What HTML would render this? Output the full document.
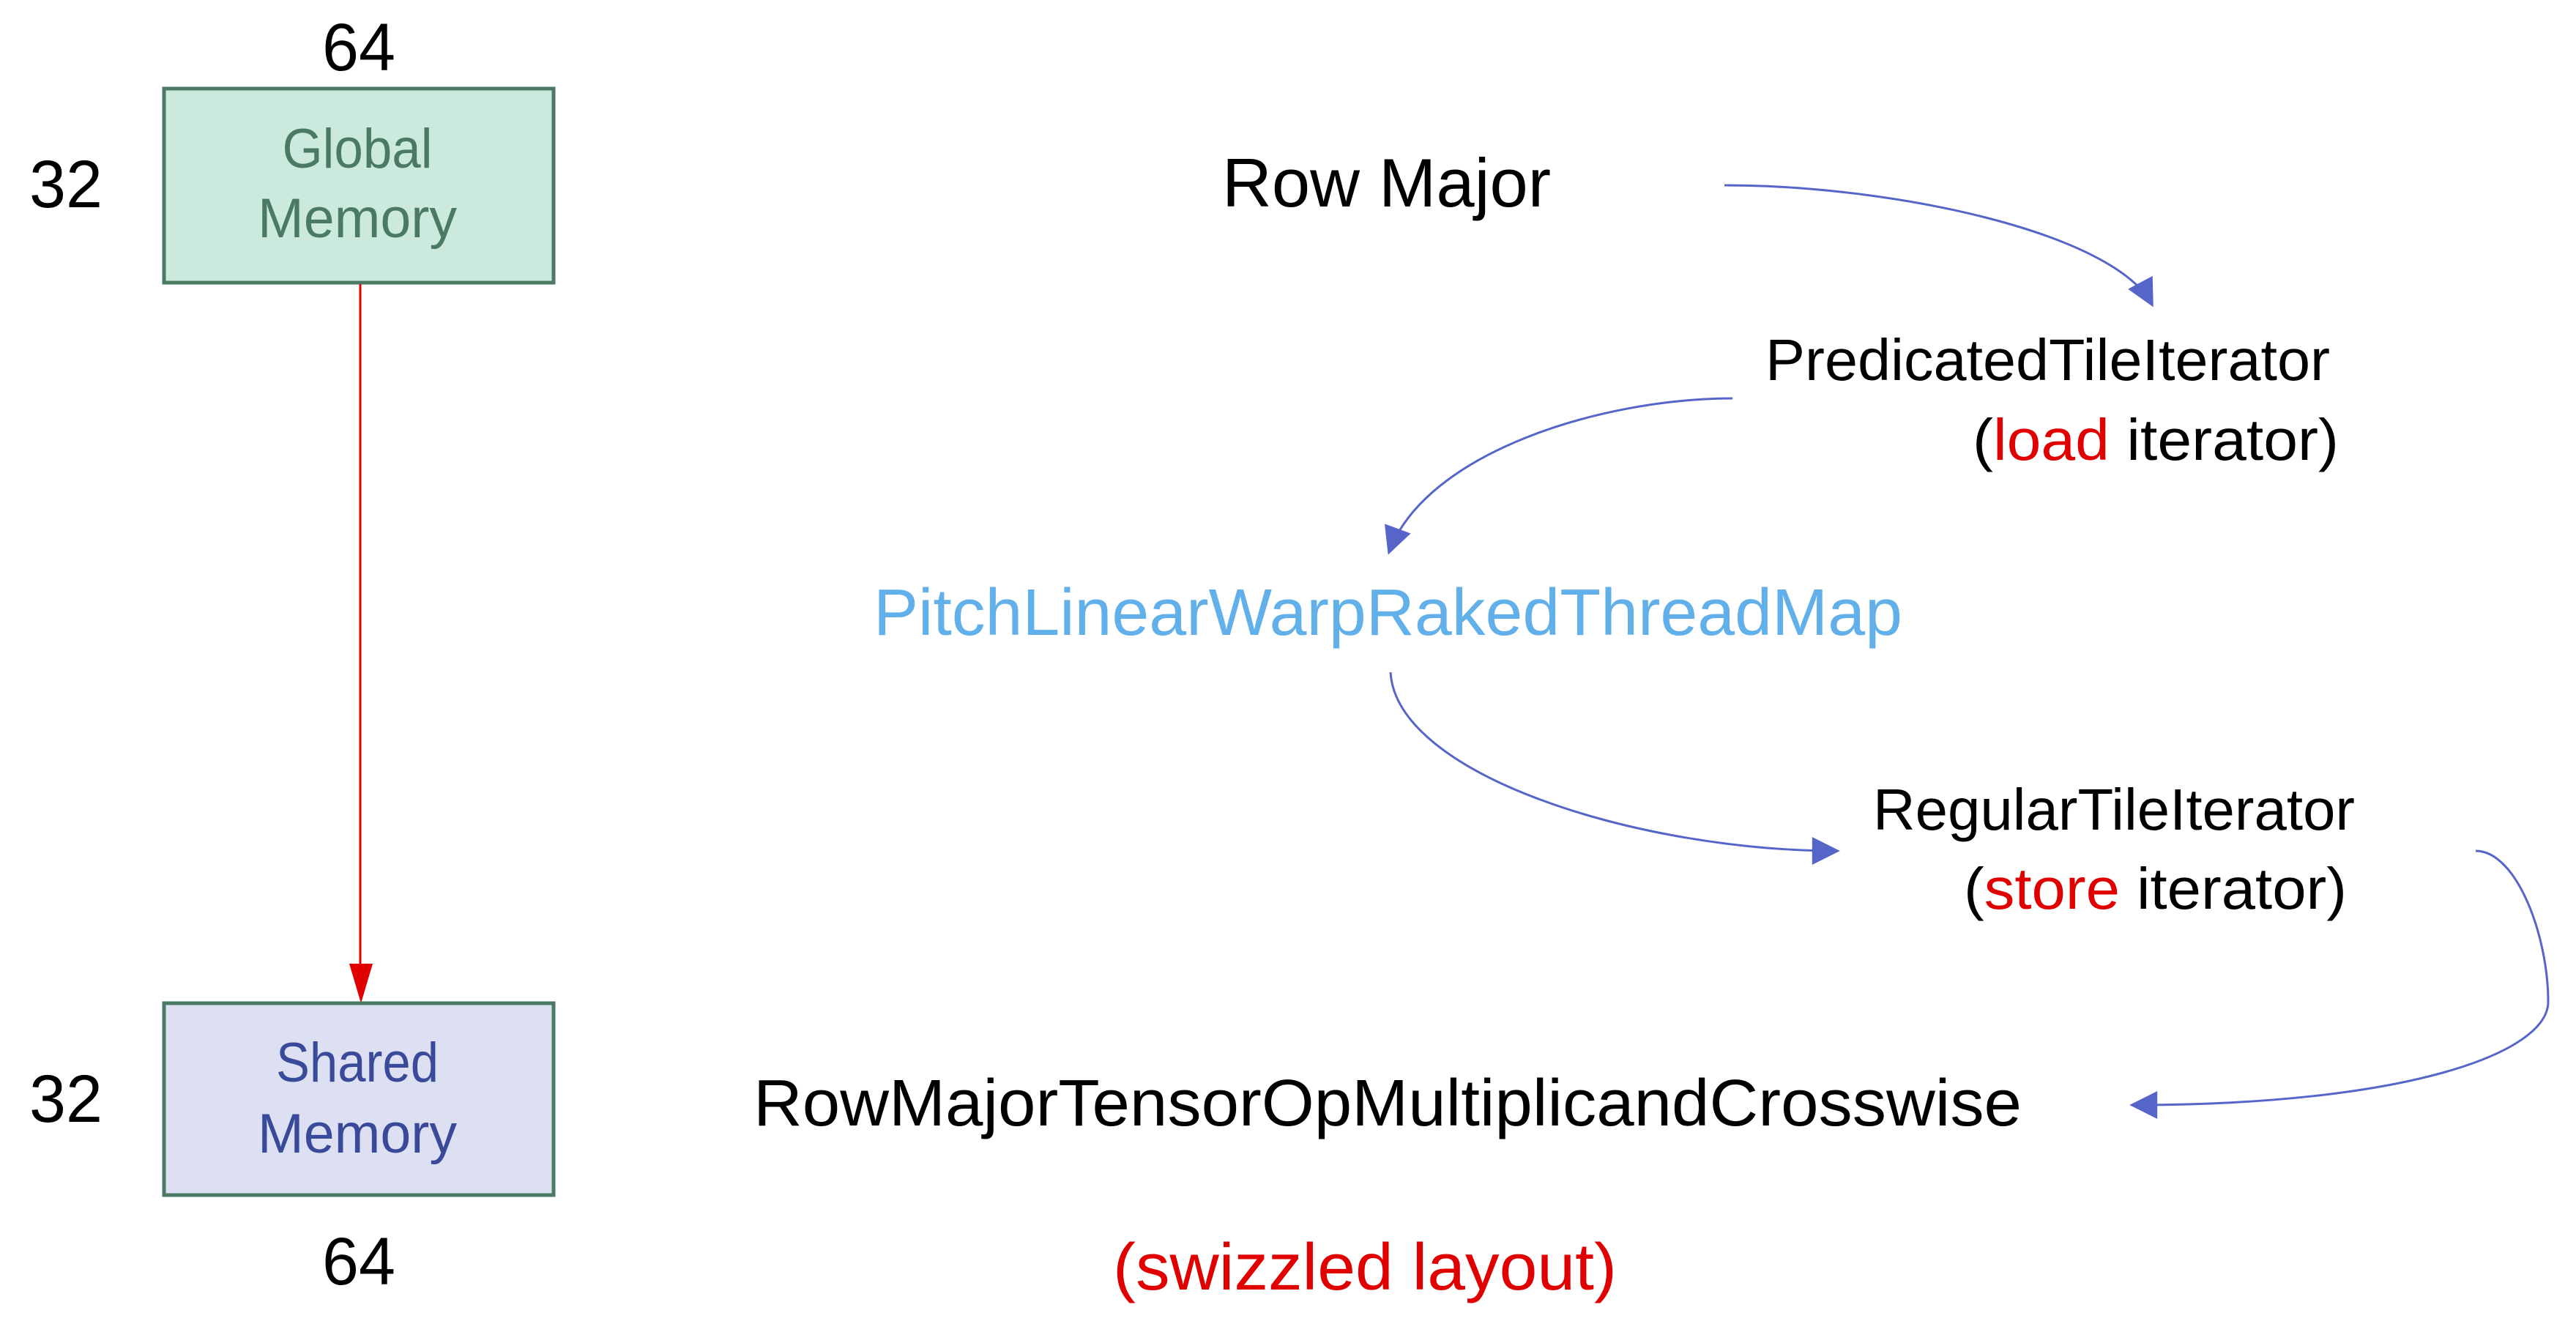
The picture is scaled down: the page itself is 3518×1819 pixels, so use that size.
<!DOCTYPE html>
<html><head><meta charset="utf-8"><style>
html,body{margin:0;padding:0;background:#fff;}
svg{display:block;}
text{font-family:"Liberation Sans",sans-serif;}
</style></head><body>
<svg width="3518" height="1819" viewBox="0 0 3518 1819" xmlns="http://www.w3.org/2000/svg">
<defs>
<marker id="ab" viewBox="0 0 10 10" refX="9" refY="5" markerWidth="40" markerHeight="38" orient="auto" markerUnits="userSpaceOnUse">
<path d="M0,0 L10,5 L0,10 z" fill="#5566C8"/></marker>
</defs>
<rect width="3518" height="1819" fill="#fff"/>
<!-- left -->
<text x="490" y="96" font-size="92" text-anchor="middle" textLength="100" lengthAdjust="spacingAndGlyphs">64</text>
<text x="90" y="283" font-size="92" text-anchor="middle" textLength="100" lengthAdjust="spacingAndGlyphs">32</text>
<rect x="224" y="121" width="532" height="265" fill="#CBEADD" stroke="#4A7A64" stroke-width="5"/>
<text x="488" y="229" font-size="76" fill="#4A7A64" text-anchor="middle" textLength="205" lengthAdjust="spacingAndGlyphs">Global</text>
<text x="488" y="324" font-size="76" fill="#4A7A64" text-anchor="middle" textLength="272" lengthAdjust="spacingAndGlyphs">Memory</text>
<line x1="492" y1="388" x2="492" y2="1325" stroke="#E00000" stroke-width="3"/>
<path d="M477,1316 L509,1316 L493,1370 z" fill="#E00000"/>
<rect x="224" y="1370" width="532" height="262" fill="#DCE0F2" stroke="#4A7A64" stroke-width="5"/>
<text x="488" y="1477" font-size="76" fill="#3A4A9A" text-anchor="middle" textLength="222" lengthAdjust="spacingAndGlyphs">Shared</text>
<text x="488" y="1574" font-size="76" fill="#3A4A9A" text-anchor="middle" textLength="272" lengthAdjust="spacingAndGlyphs">Memory</text>
<text x="90" y="1532" font-size="92" text-anchor="middle" textLength="100" lengthAdjust="spacingAndGlyphs">32</text>
<text x="490" y="1754" font-size="92" text-anchor="middle" textLength="100" lengthAdjust="spacingAndGlyphs">64</text>
<!-- right -->
<g transform="translate(-13,-2)">
<text x="1682" y="284" font-size="94" textLength="449" lengthAdjust="spacingAndGlyphs">Row Major</text>
<path d="M2368,255 C2600,255 2900,320 2952,418" fill="none" stroke="#5566C8" stroke-width="3" marker-end="url(#ab)"/>
<text x="2424" y="521" font-size="80" textLength="771" lengthAdjust="spacingAndGlyphs">PredicatedTileIterator</text>
<text x="3207" y="630" font-size="80" text-anchor="end" textLength="500" lengthAdjust="spacingAndGlyphs">(<tspan fill="#E00000">load</tspan> iterator)</text>
<path d="M2379,546 C2200,546 1960,620 1910,756" fill="none" stroke="#5566C8" stroke-width="3" marker-end="url(#ab)"/>
<text x="1206" y="869" font-size="90" fill="#62B0EA" textLength="1405" lengthAdjust="spacingAndGlyphs">PitchLinearWarpRakedThreadMap</text>
<path d="M1912,920 C1920,1060 2250,1164 2522,1164" fill="none" stroke="#5566C8" stroke-width="3" marker-end="url(#ab)"/>
<text x="2571" y="1135" font-size="80" textLength="658" lengthAdjust="spacingAndGlyphs">RegularTileIterator</text>
<text x="3218" y="1243" font-size="80" text-anchor="end" textLength="523" lengthAdjust="spacingAndGlyphs">(<tspan fill="#E00000">store</tspan> iterator)</text>
<path d="M3394,1164 C3450,1164 3493,1280 3493,1370 C3493,1440 3300,1511 2925,1511" fill="none" stroke="#5566C8" stroke-width="3" marker-end="url(#ab)"/>
<text x="1042" y="1539" font-size="90" textLength="1732" lengthAdjust="spacingAndGlyphs">RowMajorTensorOpMultiplicandCrosswise</text>
<text x="1533" y="1763" font-size="90" fill="#E00000" textLength="688" lengthAdjust="spacingAndGlyphs">(swizzled layout)</text>
</g>
</svg>
</body></html>
